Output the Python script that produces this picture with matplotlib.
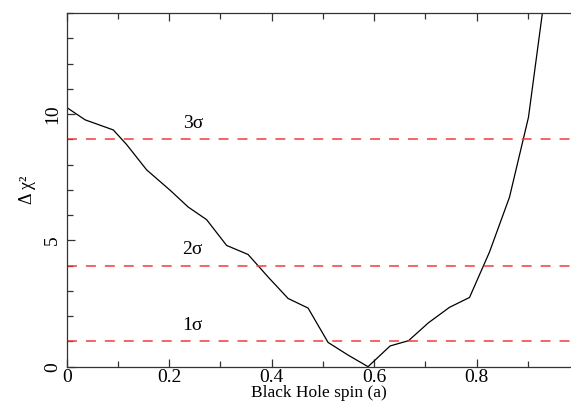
import numpy as np
import matplotlib
matplotlib.use('Agg')
import matplotlib.pyplot as plt
from matplotlib.ticker import MultipleLocator

# delta chi^2 scan vs black hole spin
spin = [0.0, 0.036, 0.091, 0.117, 0.156, 0.202, 0.237, 0.273, 0.312, 0.354,
        0.393, 0.432, 0.471, 0.510, 0.549, 0.588, 0.631, 0.667, 0.706, 0.747,
        0.786, 0.825, 0.864, 0.901, 0.940]
dchi2 = [10.26, 9.77, 9.37, 8.79, 7.79, 6.98, 6.32, 5.82, 4.80, 4.44,
         3.55, 2.70, 2.32, 0.96, 0.46, 0.0, 0.82, 1.03, 1.74, 2.35,
         2.74, 4.54, 6.71, 9.87, 15.8]
sigma_levels = [1.0, 4.0, 9.0]
sigma_labels = ['1σ', '2σ', '3σ']

plt.rcParams['font.family'] = ['Liberation Serif', 'DejaVu Serif']

fig = plt.figure(figsize=(5.71, 4.03), dpi=100)
ax = fig.add_axes([0.1168, 0.0901, 1 - 0.1168, 0.8777])

ax.plot(spin, dchi2, color='black', lw=0.9)
for lev, lab in zip(sigma_levels, sigma_labels):
    ax.axhline(lev, color='#f03c3c', lw=1.1, dashes=(6.5, 5.9))
    ax.text(0.246, lev + 0.62, lab, ha='center', va='center', fontsize=14)

ax.set_xlim(0, 0.984)
ax.set_ylim(0, 14)
ax.xaxis.set_major_locator(MultipleLocator(0.2))
ax.xaxis.set_minor_locator(MultipleLocator(0.1))
ax.yaxis.set_major_locator(MultipleLocator(5))
ax.yaxis.set_minor_locator(MultipleLocator(1))
ax.set_xticks([0, 0.2, 0.4, 0.6, 0.8])
ax.set_xticklabels(['0', '0.2', '0.4', '0.6', '0.8'])

ax.tick_params(which='both', direction='in', top=True, right=False,
               color='#333333', labelsize=14)
ax.tick_params(which='major', length=6, width=0.9)
ax.tick_params(which='minor', length=4, width=0.9)
ax.tick_params(axis='x', pad=2)
ax.tick_params(axis='y', pad=4)
for lbl in ax.get_yticklabels():
    lbl.set_rotation(90)
    lbl.set_va('center')

ax.spines['right'].set_visible(False)
for s in ['left', 'bottom', 'top']:
    ax.spines[s].set_color('#333333')
    ax.spines[s].set_linewidth(0.9)

ax.set_xlabel('Black Hole spin (a)', fontsize=12.5, labelpad=-1)
ax.set_ylabel('Δ χ²', fontsize=13, labelpad=6)

fig.savefig('out.png', dpi=100)
